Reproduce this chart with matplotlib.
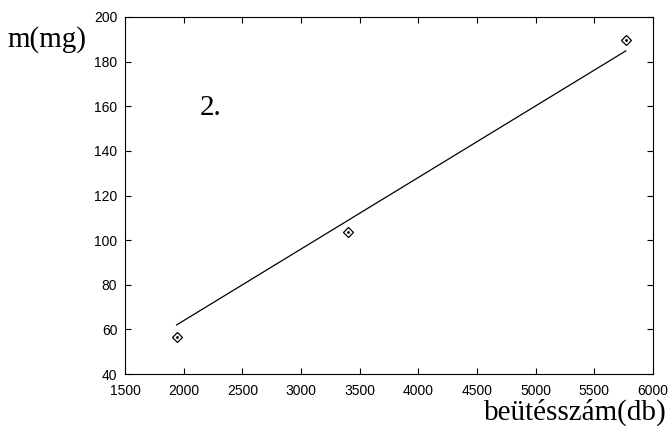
import matplotlib
matplotlib.use("Agg")
import matplotlib.pyplot as plt

# data
counts = [1940, 3403, 5768]
mass = [56.5, 103.5, 189.7]
fit_x = [1940, 5768]
fit_y = [62.0, 184.8]
x_ticks = [1500, 2000, 2500, 3000, 3500, 4000, 4500, 5000, 5500, 6000]
y_ticks = [40, 60, 80, 100, 120, 140, 160, 180, 200]

fig = plt.figure(figsize=(6.71, 4.26), dpi=100)
ax = fig.add_axes([125/671, 1 - 374/426, (653-125)/671, (374-17)/426])

ax.plot(fit_x, fit_y, color="black", linewidth=0.9)
ax.plot(counts, mass, linestyle="none", marker="D", markersize=5,
        markerfacecolor="white", markeredgecolor="black", markeredgewidth=0.9)
ax.plot(counts, mass, linestyle="none", marker="o", markersize=1.0,
        color="black")

ax.set_xlim(1500, 6000)
ax.set_ylim(40, 200)
ax.set_xticks(x_ticks)
ax.set_yticks(y_ticks)
ax.tick_params(direction="in", length=4, width=0.8, top=True, right=True,
               labelsize=10)
ax.tick_params(axis="x", pad=7.5)
ax.tick_params(axis="y", pad=5.5)
for lab in ax.get_xticklabels() + ax.get_yticklabels():
    lab.set_fontfamily("Liberation Sans")
for s in ax.spines.values():
    s.set_linewidth(0.8)

fig.text(7/671, 1 - 47/426, "m(mg)", fontsize=21, family="Liberation Serif",
         va="baseline", ha="left")
fig.text(667/671, 1 - 420/426, "beütésszám(db)", fontsize=21,
         family="Liberation Serif", va="baseline", ha="right")
ax.text(2135, 156, "2.", fontsize=21, family="Liberation Serif",
        va="baseline", ha="left")

fig.savefig("out.png", dpi=100)
